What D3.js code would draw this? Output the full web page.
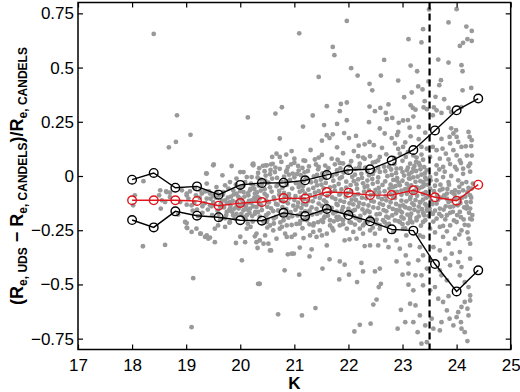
<!DOCTYPE html>
<html>
<head>
<meta charset="utf-8">
<script src="https://cdn.jsdelivr.net/npm/d3@7"></script>
<style>
  body { margin: 0; background: #fff; }
  svg text { font-family: "Liberation Sans", Arial, Helvetica, sans-serif; }
</style>
</head>
<body>
<div id="chart"></div>
<script>
// binned statistics (K magnitude bins)
const kBins = [18, 18.4, 18.8, 19.2, 19.6, 20.0, 20.4, 20.8, 21.2, 21.6, 22.0, 22.4, 22.8, 23.2, 23.6, 24.0, 24.4];
const medianVals = [-0.112, -0.112, -0.112, -0.115, -0.137, -0.125, -0.12, -0.102, -0.104, -0.074, -0.077, -0.088, -0.088, -0.066, -0.098, -0.114, -0.04];
const upperVals = [-0.017, 0.014, -0.054, -0.048, -0.086, -0.041, -0.032, -0.031, -0.02, 0.005, 0.028, 0.031, 0.071, 0.12, 0.21, 0.303, 0.357];
const lowerVals = [-0.203, -0.237, -0.163, -0.183, -0.19, -0.204, -0.206, -0.17, -0.185, -0.152, -0.18, -0.209, -0.246, -0.252, -0.406, -0.532, -0.435];

const cutK = 23.5;

const xTicks = [17, 18, 19, 20, 21, 22, 23, 24, 25];
const yTicks = [-0.75, -0.5, -0.25, 0, 0.25, 0.5, 0.75];
const yTickLabels = ["\u22120.75", "\u22120.5", "\u22120.25", "0", "0.25", "0.5", "0.75"];

// individual galaxies [K, dRe/Re]
const galaxies = [
// outliers, top
[18.40,0.655],[18.83,0.28],[19.08,0.19],[18.81,0.157],[18.68,0.132],[20.14,0.27],[19.51,0.053],[19.84,0.046],[20.23,0.054],[19.37,0.012],
[21.97,0.715],[21.09,0.658],[21.71,0.595],[21.74,0.557],[22.66,0.535],[22.05,0.497],[21.45,0.457],[22.17,0.463],[22.6,0.463],[22.39,0.425],
[22.44,0.395],[20.77,0.317],[20.65,0.288],[21.34,0.279],[21.86,0.332],[21.97,0.339],[21.6,0.322],[21.84,0.299],[22.39,0.32],[22.49,0.299],
[22.59,0.314],[22.74,0.33],[22.69,0.291],[21.16,0.228],[21.55,0.235],[21.79,0.24],[21.97,0.257],[22.38,0.248],[22.71,0.262],[22.58,0.219],
[20.73,0.173],[21.51,0.163],[21.6,0.188],[21.65,0.175],[21.71,0.192],[21.92,0.198],[22.01,0.175],[22.14,0.185],[22.67,0.196],[21.79,0.132],
[22.19,0.14],[22.3,0.146],[22.39,0.157],[22.47,0.142],[20.59,0.088],[20.67,0.103],[20.85,0.099],[21.51,0.097],[21.69,0.08],[22.18,0.091],
[22.27,0.085],[22.4,0.091],[22.58,0.088],[20.76,0.065],[20.94,0.054],[21.17,0.072],[21.38,0.076],[21.84,0.06],[20.47,0.049],[20.57,0.054],
[21.07,0.046],[21.57,0.048],[21.75,0.054],[22.21,0.057],
[23.49,0.768],[24.0,0.769],[23.85,0.708],[23.38,0.677],[24.18,0.689],[24.28,0.669],[23.11,0.631],[23.35,0.616],[24.06,0.6],[24.12,0.614],
[24.2,0.631],[24.28,0.623],[23.66,0.537],[23.85,0.523],[23.15,0.509],[23.27,0.483],[24.09,0.511],[24.11,0.483],[22.92,0.44],[23.71,0.442],
[23.48,0.436],[23.29,0.413],[23.37,0.399],[23.68,0.419],[24.27,0.406],[24.11,0.395],[23.17,0.385],[23.03,0.363],[23.61,0.365],[23.77,0.354],
[23.41,0.345],[23.15,0.326],[23.19,0.314],[23.24,0.306],[23.39,0.316],[23.45,0.308],[23.58,0.316],[23.63,0.303],[23.56,0.28],[23.72,0.291],
[23.85,0.314],[23.9,0.295],[24.09,0.318],[22.81,0.268],[22.93,0.245],[23.01,0.256],[23.1,0.258],[23.2,0.274],[23.3,0.226],[23.13,0.223],
[22.92,0.203],[22.9,0.189],[23.15,0.183],[23.9,0.22],[23.99,0.211],[23.94,0.196],[23.87,0.18],[24.0,0.18],[24.22,0.203],[24.24,0.18],
[24.28,0.165],[23.72,0.171],[23.88,0.15],[24.03,0.157],[24.09,0.134],[24.17,0.137],[24.27,0.138],[22.86,0.15],[23.01,0.134],[23.35,0.134],
[23.45,0.126],[23.56,0.134],[23.63,0.119],[23.74,0.126],[23.8,0.103],[23.94,0.119],[24.0,0.095],[24.19,0.094],[24.28,0.094],[22.95,0.103],
[23.06,0.088],[23.26,0.085],[23.35,0.099],[23.51,0.088],[23.69,0.08],[23.85,0.076],[24.06,0.072],[24.25,0.057],[23.14,0.057],[23.32,0.049],
[23.63,0.049],[23.75,0.042],[23.97,0.042],[24.12,0.034],[22.89,0.034],[23.2,0.034],[23.45,0.026],
[21.2,0.07],[21.45,0.085],[21.8,0.075],[22.05,0.068],[22.3,0.079],[22.55,0.072],[22.7,0.1],[22.85,0.082],[23.0,0.07],[23.1,0.11],
[23.2,0.095],[23.38,0.075],[22.92,0.125],[23.05,0.155],[22.62,0.13],[22.1,0.115],[21.9,0.105],[21.3,0.12],[20.95,0.115],[23.3,0.17],
[23.42,0.2],[22.8,0.175],[22.5,0.065],[23.25,0.065],[21.0,0.08],
// left side
[18.21,-0.024],[18.2,-0.324],[18.61,-0.318],[19.13,-0.471],[19.1,-0.697],[20.03,-0.389],[20.35,-0.497],[19.92,-0.309],[20.0,-0.28],[20.09,-0.305],
[20.3,-0.305],[20.32,-0.332],[20.27,-0.278],[18.53,-0.15],[19.01,-0.217],[19.01,-0.238],[19.19,-0.243],[19.27,-0.266],[19.38,-0.274],[19.44,-0.284],
[19.53,-0.243],[19.59,-0.228],[19.72,-0.235],[19.81,-0.212],[20.12,-0.243],[20.19,-0.235],[18.63,-0.071],[18.7,-0.077],[18.92,-0.066],[19.01,-0.089],
[19.07,-0.071],[19.16,-0.058],[19.29,-0.081],[19.35,-0.071],[19.44,-0.081],[19.5,-0.092],[19.69,-0.074],[19.78,-0.058],[19.87,-0.066],[19.93,-0.081],
[20.06,-0.074],[20.18,-0.066],[20.27,-0.081],[19.81,-0.028],[19.93,-0.012],[20.09,-0.028],[20.21,-0.005],[19.72,-0.043],[19.01,-0.132],[19.1,-0.135],
[19.32,-0.127],[19.44,-0.135],[19.63,-0.143],[19.75,-0.166],[19.81,-0.15],[19.87,-0.181],[19.93,-0.143],[20.06,-0.158],[20.12,-0.181],[20.18,-0.15],
[20.27,-0.174],[20.3,-0.143],[18.55,-0.112],[18.89,-0.12],[19.04,-0.104],[19.38,-0.104],[19.5,-0.12],[19.72,-0.112],[19.81,-0.12],[20.0,-0.104],
[20.12,-0.127],[20.21,-0.112],[20.15,-0.089],[20.0,-0.051],[20.24,-0.043],[19.56,-0.051],
[18.05,-0.089],[18.02,-0.135],[18.61,-0.12],[19.1,-0.258],[19.26,-0.266],[19.35,-0.281],[19.41,-0.289],[20.33,-0.497],[18.64,-0.074],[19.67,0.003],
[19.38,0.011],[20.06,0.018],[20.24,0.049],[19.01,-0.081],[18.52,-0.066],[18.7,-0.097],[18.5,-0.089],[18.85,-0.178],[18.98,-0.212],[19.02,-0.24],
[19.53,-0.305],[19.26,-0.066],[19.38,-0.035],[19.5,0.049],[20.0,0.018],[20.12,-0.005],[20.24,0.057],[20.3,-0.266],[20.36,-0.297],[20.55,-0.343],
[20.77,-0.235],[20.86,-0.281],[20.95,-0.358],[20.73,0.088],[20.86,0.026],[20.49,0.049],
// lower middle
[20.7,-0.638],[21.14,-0.643],[21.39,-0.609],[22.11,-0.717],[22.21,-0.686],[22.41,-0.681],[22.46,-0.593],[22.52,-0.57],[22.56,-0.512],[22.6,-0.497],
[22.16,-0.489],[21.83,-0.477],[22.01,-0.455],[21.09,-0.455],[20.82,-0.435],[21.52,-0.427],[21.84,-0.394],[21.93,-0.409],[21.65,-0.384],[22.24,-0.401],
[22.27,-0.44],[22.49,-0.44],[22.58,-0.427],[20.36,-0.497],[20.88,-0.361],[20.99,-0.358],[21.28,-0.371],[21.32,-0.338],[21.1,-0.33],[20.57,-0.343],
[20.43,-0.312],[20.52,-0.312],[21.6,-0.32],[21.93,-0.297],[22.02,-0.292],[22.3,-0.323],[22.4,-0.32],[22.55,-0.32],[22.68,-0.297],[22.74,-0.328],
[22.15,-0.289],[22.27,-0.266],[20.73,-0.243],[20.83,-0.266],[20.95,-0.281],[21.01,-0.27],[21.17,-0.286],[21.29,-0.274],[21.35,-0.258],[21.41,-0.281],
[21.51,-0.274],[21.47,-0.251],[21.6,-0.266],[21.72,-0.251],[21.84,-0.228],[21.97,-0.243],[22.09,-0.258],[22.21,-0.243],[22.4,-0.251],[22.49,-0.266],
[22.58,-0.243],[20.55,-0.228],[20.61,-0.251],[20.46,-0.274],[20.67,-0.289],[21.1,-0.22],[21.23,-0.204],[21.35,-0.228],[21.53,-0.212],[21.66,-0.204],
[21.78,-0.189],[21.9,-0.204],[22.02,-0.212],[22.21,-0.204],[22.27,-0.228],[22.52,-0.22],[22.64,-0.204],[22.71,-0.228],[20.49,-0.212],[20.86,-0.228],
// lower right
[22.97,-0.617],[22.91,-0.704],[23.05,-0.674],[23.14,-0.589],[23.24,-0.597],[23.2,-0.674],[23.28,-0.72],[23.35,-0.773],[23.45,-0.766],[23.42,-0.689],
[23.32,-0.643],[23.54,-0.658],[23.57,-0.704],[23.69,-0.712],[23.72,-0.674],[23.82,-0.62],[23.87,-0.658],[23.94,-0.689],[24.0,-0.651],[24.03,-0.628],
[24.08,-0.674],[24.09,-0.704],[24.15,-0.72],[24.2,-0.761],[24.22,-0.643],[24.2,-0.612],[24.09,-0.604],[24.15,-0.581],[24.25,-0.574],[23.66,-0.566],
[23.75,-0.581],[23.85,-0.554],[23.51,-0.527],[23.6,-0.512],[23.38,-0.504],[23.2,-0.527],[23.11,-0.501],[23.0,-0.455],[23.11,-0.45],[23.24,-0.458],
[23.35,-0.458],[23.72,-0.458],[23.82,-0.481],[24.06,-0.458],[24.15,-0.489],[24.22,-0.512],[24.25,-0.551],[24.09,-0.42],[23.88,-0.412],[23.79,-0.381],
[24.03,-0.397],[24.25,-0.381],[23.69,-0.435],[23.45,-0.427],[22.89,-0.394],[23.06,-0.366],[23.11,-0.404],[23.29,-0.389],[23.38,-0.366],[23.69,-0.343],
[23.91,-0.358],[24.06,-0.351],[24.25,-0.312],[24.22,-0.289],[23.97,-0.289],[23.85,-0.312],[23.75,-0.281],[23.57,-0.328],[23.32,-0.328],[23.14,-0.32],
[22.95,-0.335],[22.89,-0.297],[23.07,-0.274],[23.38,-0.281],[24.09,-0.251],[24.22,-0.228],[24.0,-0.212],[23.88,-0.228],[23.69,-0.235],[23.51,-0.243],
[23.32,-0.274],[23.01,-0.243],[22.83,-0.258],[23.38,-0.212],[23.63,-0.197],[23.82,-0.181],[24.06,-0.166],[24.18,-0.15],[24.25,-0.197],[22.95,-0.212],
[23.14,-0.189],[23.26,-0.204],[23.51,-0.166],[23.69,-0.15],[23.88,-0.143],[23.45,-0.143],[23.14,-0.15],[22.89,-0.158],[23.01,-0.135],[23.32,-0.12],
[23.63,-0.127],[23.85,-0.12],[24.18,-0.12],[24.06,-0.104],[24.25,-0.089],[24.28,-0.058],[24.12,-0.066],[23.97,-0.066],[23.82,-0.081],[23.69,-0.066],
[23.51,-0.058],[23.38,-0.081],[23.26,-0.051],[23.07,-0.066],[22.95,-0.043],[22.86,-0.074],[22.89,-0.02],[23.14,-0.012],[23.38,-0.028],[23.63,-0.02],
[23.85,-0.028],[24.03,-0.02],[24.18,-0.028],[23.75,-0.005],[23.51,-0.005],
[23.5,-0.095],[23.55,-0.13],[23.58,-0.07],[23.6,-0.16],[23.66,-0.11],[23.7,-0.04],[23.72,-0.185],[23.77,-0.09],[23.8,-0.14],[23.83,-0.06],
[23.9,-0.115],[23.93,-0.165],[23.96,-0.085],[24.02,-0.135],[24.05,-0.05],[24.08,-0.19],[24.1,-0.1],[24.14,-0.145],[24.2,-0.075],[24.23,-0.17],
[24.26,-0.12],[24.3,-0.035],[23.52,-0.02],[23.62,0.01],[23.78,0.02],[23.9,0.0],[24.0,0.03],[24.12,0.01],[24.22,0.045],[23.57,-0.21],
[23.75,-0.23],[23.95,-0.205],[24.15,-0.225],[24.28,-0.2],
[23.47,-0.04],[23.53,-0.115],[23.56,-0.175],[23.6,-0.045],[23.64,-0.09],[23.68,-0.175],[23.71,-0.1],[23.74,-0.06],[23.76,-0.155],[23.79,-0.2],
[23.82,-0.105],[23.86,-0.04],[23.88,-0.17],[23.91,-0.075],[23.94,-0.14],[23.98,-0.105],[24.01,-0.18],[24.04,-0.075],[24.07,-0.125],[24.1,-0.035],
[24.13,-0.2],[24.16,-0.095],[24.19,-0.14],[24.22,-0.055],[24.25,-0.15],[24.27,-0.1],[24.29,-0.18],[23.5,-0.15],[23.48,-0.185],[23.6,-0.26],
[23.82,-0.255],[24.05,-0.27],[24.2,-0.26],[23.68,0.03],[23.88,0.055],[24.08,0.06],[24.25,0.02],
// bright-end core
[19.45,-0.105],[19.52,-0.13],[19.58,-0.16],[19.61,-0.09],[19.66,-0.115],[19.7,-0.145],[19.74,-0.18],[19.77,-0.1],[19.82,-0.135],[19.85,-0.165],
[19.88,-0.085],[19.9,-0.195],[19.94,-0.12],[19.97,-0.15],[20.0,-0.07],[20.02,-0.175],[20.05,-0.13],[20.08,-0.095],[20.1,-0.2],[20.13,-0.155],
[20.16,-0.115],[20.19,-0.06],[20.22,-0.185],[20.24,-0.14],[20.26,-0.1],[20.28,-0.165],[20.2,-0.035],[20.06,-0.045],[19.92,-0.04],[19.56,-0.075],
[19.48,-0.18],[19.63,-0.2],[19.8,-0.215],[20.14,-0.22],[19.4,-0.155],[19.35,-0.125],[19.3,-0.14],[19.25,-0.1],[19.2,-0.155],[19.15,-0.125],
[19.42,-0.07],[19.47,-0.14],[19.55,-0.1],[19.6,-0.175],[19.64,-0.13],[19.68,-0.085],[19.72,-0.195],[19.75,-0.125],[19.79,-0.16],[19.83,-0.095],
[19.86,-0.115],[19.89,-0.15],[19.93,-0.175],[19.96,-0.095],[19.99,-0.135],[20.03,-0.11],[20.07,-0.19],[20.1,-0.14],[20.14,-0.08],[20.17,-0.17],
[20.2,-0.125],[20.23,-0.21],[20.26,-0.06],[20.29,-0.115],[19.3,-0.17],[19.22,-0.185],[19.18,-0.09],[19.12,-0.16],
// faint-end core
[20.42,0.047],[20.88,0.041],[21.27,0.044],[21.63,0.036],[22.02,0.048],[22.31,0.039],[22.66,0.043],[22.97,0.035],[23.22,0.046],
[20.56,0.028],[20.73,0.033],[21.08,0.025],[21.44,0.031],[21.79,0.027],[22.13,0.033],[22.48,0.024],[22.79,0.03],[23.08,0.026],[23.33,0.031],
[20.33,0.014],[20.64,0.018],[20.97,0.011],[21.19,0.017],[21.52,0.012],[21.91,0.016],[22.24,0.01],[22.58,0.019],[22.88,0.013],[23.17,0.017],[23.41,0.012],
[20.47,0.002],[20.81,-0.003],[21.12,0.004],[21.36,-0.002],[21.7,0.001],[22.07,-0.004],[22.38,0.003],[22.72,-0.001],[23.03,0.002],[23.28,-0.003],
[20.38,-0.016],[20.59,-0.012],[20.92,-0.018],[21.23,-0.013],[21.49,-0.017],[21.84,-0.011],[22.18,-0.016],[22.44,-0.014],[22.83,-0.018],[23.12,-0.012],[23.44,-0.016],
[20.52,-0.031],[20.76,-0.027],[21.03,-0.033],[21.31,-0.029],[21.58,-0.032],[21.96,-0.026],[22.27,-0.034],[22.54,-0.028],[22.93,-0.031],[23.24,-0.027],
[20.34,-0.044],[20.67,-0.047],[20.86,-0.041],[21.16,-0.046],[21.42,-0.043],[21.74,-0.048],[22.04,-0.042],[22.35,-0.046],[22.63,-0.041],[22.87,-0.047],[23.16,-0.043],[23.39,-0.046],
[20.45,-0.061],[20.96,-0.058],[21.26,-0.063],[21.54,-0.057],[21.87,-0.062],[22.16,-0.059],[22.5,-0.064],[22.76,-0.058],[23.05,-0.061],[23.31,-0.057],
[20.31,-0.076],[20.58,-0.072],[20.81,-0.078],[21.1,-0.073],[21.38,-0.077],[21.67,-0.074],[21.98,-0.079],[22.29,-0.072],[22.57,-0.076],[22.9,-0.073],[23.19,-0.078],[23.43,-0.074],
[20.49,-0.091],[20.72,-0.087],[21.02,-0.093],[21.29,-0.088],[21.61,-0.092],[21.83,-0.086],[22.11,-0.091],[22.41,-0.089],[22.69,-0.093],[22.98,-0.087],[23.27,-0.091],
[20.36,-0.104],[20.63,-0.108],[20.91,-0.103],[21.18,-0.107],[21.47,-0.102],[21.76,-0.106],[22.06,-0.109],[22.33,-0.103],[22.62,-0.107],[22.86,-0.102],[23.14,-0.106],[23.38,-0.109],
[20.53,-0.121],[20.8,-0.118],[21.07,-0.123],[21.34,-0.117],[21.59,-0.122],[21.92,-0.119],[22.2,-0.124],[22.47,-0.118],[22.78,-0.121],[23.07,-0.117],[23.33,-0.122],
[20.39,-0.136],[20.69,-0.132],[20.98,-0.137],[21.22,-0.133],[21.51,-0.138],[21.8,-0.134],[22.09,-0.131],[22.37,-0.136],[22.64,-0.133],[22.95,-0.138],[23.21,-0.134],[23.45,-0.137],
[20.57,-0.149],[20.85,-0.153],[21.13,-0.148],[21.41,-0.152],[21.69,-0.147],[22.0,-0.151],[22.26,-0.154],[22.55,-0.148],[22.82,-0.152],[23.11,-0.149],[23.36,-0.153],
[20.33,-0.166],[20.61,-0.162],[20.93,-0.167],[21.2,-0.163],[21.48,-0.168],[21.78,-0.164],[22.08,-0.161],[22.39,-0.166],[22.7,-0.163],[22.99,-0.168],[23.29,-0.164],
[20.48,-0.181],[20.78,-0.177],[21.06,-0.182],[21.33,-0.178],[21.62,-0.183],[21.94,-0.179],[22.22,-0.184],[22.52,-0.177],[22.81,-0.182],[23.09,-0.178],[23.4,-0.181],
[20.62,-0.196],[20.89,-0.192],[21.24,-0.197],[21.55,-0.193],[21.86,-0.198],[22.14,-0.194],[22.43,-0.199],[22.74,-0.192],[23.02,-0.196],[23.26,-0.193],
[20.43,-0.211],[20.74,-0.214],[21.11,-0.208],[21.44,-0.213],[21.73,-0.209],[22.05,-0.215],[22.36,-0.21],[22.67,-0.213],[22.92,-0.208],[23.18,-0.214],
[20.95,-0.226],[21.28,-0.223],[21.66,-0.228],[22.12,-0.224],[22.58,-0.227],[23.0,-0.222],[23.34,-0.229],
[20.6,0.056],[21.0,0.061],[21.4,0.053],[21.9,0.058],[22.45,0.062],[22.85,0.055],[23.3,0.06],
[20.35,0.036],[20.65,0.039],[21.15,0.037],[21.45,0.042],[21.85,0.035],[22.2,0.041],[22.55,0.037],[22.75,0.043],[23.1,0.038],[23.4,0.041],
[20.45,0.022],[20.85,0.019],[21.25,0.023],[21.6,0.02],[21.98,0.024],[22.35,0.02],[22.68,0.022],[23.0,0.018],[23.25,0.023],
[20.55,0.008],[20.9,0.006],[21.05,0.009],[21.42,0.005],[21.78,0.008],[22.12,0.006],[22.45,0.009],[22.8,0.005],[23.12,0.008],[23.35,0.006],
[20.32,-0.007],[20.68,-0.009],[21.0,-0.006],[21.22,-0.01],[21.56,-0.008],[21.88,-0.005],[22.25,-0.009],[22.55,-0.007],[22.9,-0.01],[23.2,-0.006],[23.42,-0.008],
[20.46,-0.022],[20.84,-0.024],[21.18,-0.021],[21.4,-0.025],[21.72,-0.022],[22.1,-0.024],[22.35,-0.021],[22.68,-0.025],[23.0,-0.022],[23.33,-0.024],
[20.4,-0.037],[20.7,-0.039],[21.1,-0.036],[21.5,-0.04],[21.82,-0.037],[22.15,-0.039],[22.45,-0.036],[22.78,-0.04],[23.08,-0.037],[23.4,-0.039],
[20.55,-0.052],[20.78,-0.054],[21.08,-0.051],[21.35,-0.055],[21.66,-0.052],[21.96,-0.054],[22.3,-0.051],[22.56,-0.055],[22.82,-0.052],[23.12,-0.054],[23.36,-0.051],
[20.38,-0.067],[20.72,-0.069],[21.15,-0.066],[21.45,-0.07],[21.75,-0.067],[22.05,-0.069],[22.38,-0.066],[22.67,-0.07],[22.98,-0.067],[23.22,-0.069],
[20.45,-0.082],[20.9,-0.084],[21.2,-0.081],[21.5,-0.085],[21.85,-0.082],[22.18,-0.084],[22.48,-0.081],[22.78,-0.085],[23.08,-0.082],[23.38,-0.084],
[20.32,-0.097],[20.62,-0.099],[20.82,-0.096],[21.12,-0.1],[21.38,-0.097],[21.7,-0.099],[21.95,-0.096],[22.25,-0.1],[22.55,-0.097],[22.83,-0.099],[23.15,-0.096],[23.44,-0.1],
[20.48,-0.112],[20.75,-0.114],[21.0,-0.111],[21.26,-0.115],[21.55,-0.112],[21.85,-0.114],[22.14,-0.111],[22.42,-0.115],[22.7,-0.112],[22.98,-0.114],[23.24,-0.111],
[20.35,-0.127],[20.66,-0.129],[20.88,-0.126],[21.16,-0.13],[21.45,-0.127],[21.78,-0.129],[22.02,-0.126],[22.28,-0.13],[22.58,-0.127],[22.88,-0.129],[23.18,-0.126],[23.42,-0.13],
[20.5,-0.142],[20.78,-0.144],[21.06,-0.141],[21.32,-0.145],[21.62,-0.142],[21.9,-0.144],[22.18,-0.141],[22.46,-0.145],[22.75,-0.142],[23.05,-0.144],[23.3,-0.141],
[20.4,-0.157],[20.7,-0.159],[21.02,-0.156],[21.28,-0.16],[21.58,-0.157],[21.88,-0.159],[22.12,-0.156],[22.35,-0.16],[22.65,-0.157],[22.95,-0.159],[23.22,-0.156],[23.45,-0.16],
[20.52,-0.172],[20.82,-0.174],[21.12,-0.171],[21.42,-0.175],[21.72,-0.172],[22.02,-0.174],[22.3,-0.171],[22.58,-0.175],[22.88,-0.172],[23.16,-0.174],[23.38,-0.171],
[20.36,-0.187],[20.66,-0.189],[20.96,-0.186],[21.24,-0.19],[21.56,-0.187],[21.82,-0.189],[22.1,-0.186],[22.4,-0.19],[22.7,-0.187],[22.98,-0.189],[23.3,-0.186],
[20.5,-0.202],[20.8,-0.204],[21.18,-0.201],[21.5,-0.205],[21.8,-0.202],[22.2,-0.204],[22.52,-0.201],[22.86,-0.205],[23.14,-0.202],[23.42,-0.204],
[20.62,-0.219],[21.04,-0.221],[21.36,-0.218],[21.9,-0.222],[22.3,-0.219],[22.75,-0.221],[23.1,-0.218],
[20.5,-0.238],[21.15,-0.241],[21.7,-0.24],[22.45,-0.238],[23.05,-0.242]
];

var margin = {top: 2.5, right: 9.3, bottom: 42.5, left: 78},
    width = 520 - margin.left - margin.right,
    height = 392 - margin.top - margin.bottom;

var svg = d3.select("#chart")
    .append("svg")
    .attr("width", 520)
    .attr("height", 392)
    .append("g")
    .attr("transform", "translate(" + margin.left + "," + margin.top + ")");

const x = d3.scaleLinear().domain([17, 25]).range([0, width]);
const y = d3.scaleLinear().domain([-0.8, 0.8]).range([height, 0]);

// scatter
svg.append("g")
    .selectAll("circle")
    .data(galaxies)
    .enter()
    .append("circle")
    .attr("cx", d => x(d[0]))
    .attr("cy", d => y(d[1]))
    .attr("r", 2.4)
    .style("fill", "#999999");

// magnitude cut
svg.append("line")
    .attr("x1", x(cutK)).attr("x2", x(cutK))
    .attr("y1", 0).attr("y2", height)
    .style("stroke", "black")
    .style("stroke-width", 2.2)
    .style("stroke-dasharray", "7,4");

function drawSeries(vals, color){
    const pts = kBins.map((k, i) => [k, vals[i]]);
    svg.append("path")
        .datum(pts)
        .attr("d", d3.line().x(d => x(d[0])).y(d => y(d[1])))
        .style("fill", "none")
        .style("stroke", color)
        .style("stroke-width", 1.4);
    svg.append("g")
        .selectAll("circle")
        .data(pts)
        .enter()
        .append("circle")
        .attr("cx", d => x(d[0]))
        .attr("cy", d => y(d[1]))
        .attr("r", 4.3)
        .style("fill", "none")
        .style("stroke", color)
        .style("stroke-width", 1.4);
}
drawSeries(upperVals, "black");
drawSeries(lowerVals, "black");
drawSeries(medianVals, "#e0141a");

// axes, MATLAB style ticks inside on all four sides
function styleAxis(g){
    g.select(".domain").remove();
    g.selectAll(".tick line").style("stroke", "black").style("stroke-width", 1.2);
    g.selectAll("text").style("font-size", "17px").style("fill", "black");
}
svg.append("g")
    .attr("transform", "translate(0," + height + ")")
    .call(d3.axisBottom(x).tickValues(xTicks).tickFormat(d3.format("d")).tickSizeInner(-5).tickSizeOuter(0).tickPadding(9))
    .call(styleAxis);
svg.append("g")
    .call(d3.axisTop(x).tickValues(xTicks).tickFormat("").tickSizeInner(-5).tickSizeOuter(0))
    .call(styleAxis);
svg.append("g")
    .call(d3.axisLeft(y).tickValues(yTicks).tickFormat((d, i) => yTickLabels[i]).tickSizeInner(-5).tickSizeOuter(0).tickPadding(4))
    .call(styleAxis);
svg.append("g")
    .attr("transform", "translate(" + width + ",0)")
    .call(d3.axisRight(y).tickValues(yTicks).tickFormat("").tickSizeInner(-5).tickSizeOuter(0))
    .call(styleAxis);

svg.append("rect")
    .attr("x", 0).attr("y", 0)
    .attr("width", width).attr("height", height)
    .style("fill", "none")
    .style("stroke", "black")
    .style("stroke-width", 1.5);

// x label
svg.append("text")
    .attr("x", width / 2)
    .attr("y", height + 39.5)
    .attr("text-anchor", "middle")
    .style("font-size", "17px")
    .style("font-weight", "bold")
    .text("K");

// y label with subscripts
const yl = svg.append("text")
    .attr("transform", "translate(" + (23 - margin.left) + "," + (height / 2) + ") rotate(-90)")
    .attr("text-anchor", "middle")
    .style("font-weight", "bold");
const parts = [
    ["(R", 18, 0], ["e, UDS", 12, 4], [" \u2212 R", 18, -4], ["e, CANDELS", 12, 4],
    [")/R", 18, -4], ["e, CANDELS", 12, 4]
];
parts.forEach(p => {
    yl.append("tspan").attr("dy", p[2]).style("font-size", p[1] + "px").text(p[0]);
});
</script>
</body>
</html>
